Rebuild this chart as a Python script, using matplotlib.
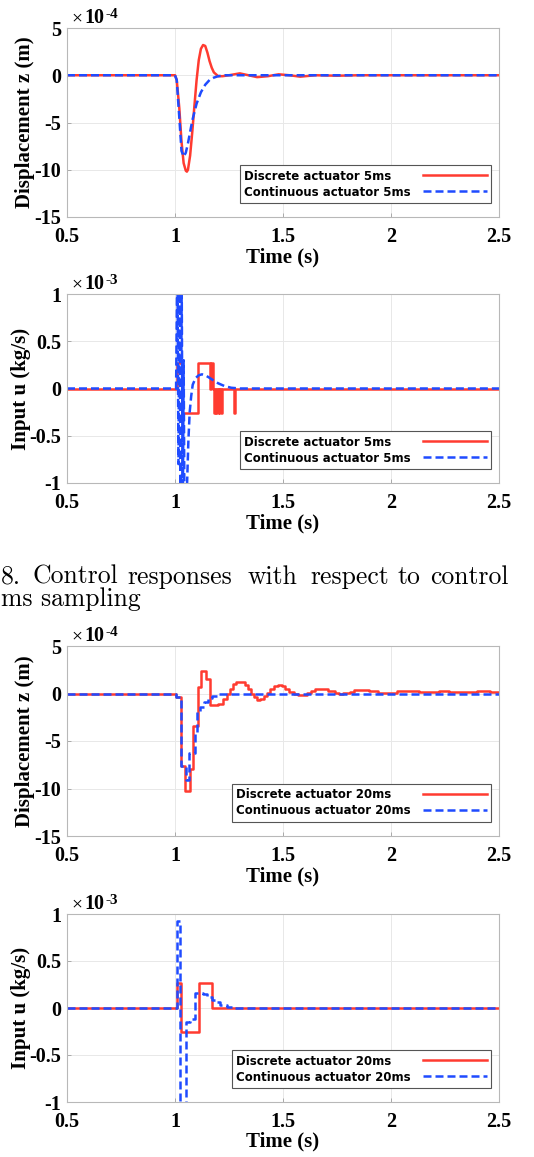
"""Recreate the control-response figure (5 ms and 20 ms sampling)."""
import matplotlib
matplotlib.use("Agg")
import matplotlib.pyplot as plt
from matplotlib.transforms import Bbox, offset_copy

plt.rcParams["axes.unicode_minus"] = False

RED = "#ff3b30"
BLUE = "#1f4bff"

# ---- 5 ms sampling: displacement (x1e-4 m) ----
z5_disc_t = [0.5, 1.0, 1.008, 1.02, 1.03, 1.04, 1.05, 1.055, 1.06, 1.07, 1.08, 1.09,
             1.10, 1.11, 1.12, 1.13, 1.14, 1.15, 1.16, 1.17, 1.18, 1.20, 1.22, 1.25,
             1.30, 1.34, 1.38, 1.43, 1.48, 1.53, 1.58, 1.65, 1.75, 1.85, 2.5]
z5_disc = [0, 0, -0.5, -3.5, -7.0, -9.3, -10.1, -10.2, -10.0, -8.5, -6.0, -3.2,
           -0.5, 1.6, 2.8, 3.2, 3.1, 2.4, 1.5, 0.8, 0.3, -0.1, -0.1, 0.0,
           0.2, 0.0, -0.2, -0.1, 0.1, 0.0, -0.15, 0.0, -0.05, 0.0, 0.0]
z5_cont_t = [0.5, 1.0, 1.008, 1.02, 1.03, 1.04, 1.05, 1.06, 1.07, 1.08, 1.10, 1.12,
             1.14, 1.16, 1.18, 1.20, 1.23, 2.5]
z5_cont = [0, 0, -0.5, -4.5, -8.0, -8.6, -8.2, -7.2, -6.0, -4.8, -3.0, -1.8,
           -1.0, -0.5, -0.25, -0.1, 0.0, 0.0]

# ---- 5 ms sampling: input (x1e-3 kg/s) ----
u5_disc_t = [0.5, 1.010, 1.031, 1.108, 1.163, 1.166, 1.175, 1.181, 1.184, 1.192, 1.195,
             1.203, 1.206, 1.214, 1.217, 1.274, 1.277, 2.5]
u5_disc = [0, 0.27, -0.26, 0.27, 0, 0.27, 0, -0.26, 0, -0.26, 0,
           -0.26, 0, -0.26, 0, -0.26, 0, 0]
u5_cont_t = [0.5, 1.005, 1.011, 1.016, 1.021, 1.026, 1.031, 1.036, 1.040,
             1.044, 1.050, 1.056, 1.062, 1.068, 1.075, 1.082, 1.095, 1.110, 1.125, 1.140,
             1.155, 1.175, 1.20, 1.23, 1.26, 1.30, 2.5]
u5_cont = [0, 0, 1.4, -0.8, 1.4, -1.4, 1.1, -1.4, 0.3,
           -1.4, -1.3, -1.0, -0.55, -0.25, -0.08, 0.04, 0.11, 0.14, 0.15, 0.14,
           0.12, 0.09, 0.055, 0.025, 0.008, 0.0, 0.0]

# ---- 20 ms sampling: displacement (x1e-4 m) ----
z20_disc_t = [0.5, 1.006, 1.029, 1.048, 1.068, 1.085, 1.107, 1.119, 1.145, 1.162,
              1.200, 1.224, 1.239, 1.254, 1.269, 1.284, 1.299, 1.322, 1.337, 1.352,
              1.367, 1.380, 1.393, 1.41, 1.425, 1.44, 1.458, 1.477, 1.495, 1.51,
              1.53, 1.55, 1.57, 1.59, 1.61, 1.63, 1.65, 1.668, 1.69, 1.71,
              1.74, 1.76, 1.78, 1.81, 1.83, 1.85, 1.87, 1.90, 1.94, 1.98,
              2.03, 2.08, 2.13, 2.18, 2.22, 2.27, 2.31, 2.36, 2.40, 2.46, 2.5]
z20_disc = [0, -0.4, -7.6, -10.3, -7.9, -3.45, 0.7, 2.4, 1.5, -1.2,
            -1.1, -0.6, 0.0, 0.5, 1.0, 1.2, 1.2, 0.9, 0.45, 0.0,
            -0.4, -0.65, -0.6, -0.3, 0.1, 0.45, 0.75, 0.85, 0.75, 0.5,
            0.2, -0.05, -0.2, -0.15, 0.05, 0.25, 0.45, 0.5, 0.45, 0.3,
            0.1, 0.0, 0.05, 0.2, 0.35, 0.42, 0.4, 0.3, 0.07, 0.1,
            0.3, 0.25, 0.12, 0.15, 0.25, 0.2, 0.15, 0.18, 0.22, 0.2, 0.2]
z20_cont_t = [0.5, 1.006, 1.029, 1.050, 1.066, 1.092, 1.103, 1.118, 1.133, 1.153,
              1.171, 1.193, 1.216, 2.5]
z20_cont = [0, -0.4, -7.6, -9.1, -6.3, -4.1, -1.9, -1.4, -0.9, -0.5,
            -0.3, -0.1, 0.0, 0.0]

# ---- 20 ms sampling: input (x1e-3 kg/s) ----
u20_disc_t = [0.5, 1.008, 1.029, 1.110, 1.172, 2.5]
u20_disc = [0, 0.27, -0.255, 0.27, 0, 0]
u20_cont_t = [0.5, 1.010, 1.025, 1.050, 1.070, 1.093, 1.13, 1.15, 1.17, 1.19,
              1.21, 1.24, 1.27, 2.5]
u20_cont = [0, 0.93, -1.4, -0.15, -0.12, 0.16, 0.15, 0.12, 0.09, 0.06,
            0.035, 0.015, 0.0, 0.0]

X_TICKS = [0.5, 1, 1.5, 2, 2.5]
X_TICKLABELS = ["0.5", "1", "1.5", "2", "2.5"]
Z_TICKS = [-15, -10, -5, 0, 5]
Z_TICKLABELS = ["-15", "-10", "-5", "0", "5"]
U_TICKS = [-1, -0.5, 0, 0.5, 1]
U_TICKLABELS = ["-1", "-0.5", "0", "0.5", "1"]

SERIF = "Liberation Serif"


def style_axes(fig, ax, yticks, yticklabels, ylabel, exponent, ylabel_x):
    ax.set_xlim(0.5, 2.5)
    ax.set_ylim(yticks[0], yticks[-1])
    ax.set_xticks(X_TICKS)
    ax.set_xticklabels(X_TICKLABELS, family=SERIF, weight="bold", fontsize=14.5)
    ax.set_yticks(yticks)
    ax.set_yticklabels(yticklabels, family=SERIF, weight="bold", fontsize=14.5)
    ax.tick_params(direction="in", length=3, width=0.6, color="#a0a0a0")
    ax.tick_params(axis="x", pad=7)
    ax.tick_params(axis="y", pad=4)
    ax.grid(True, color="#e8e8e8", linewidth=0.7)
    ax.set_axisbelow(True)
    for sp in ax.spines.values():
        sp.set_color("#b8b8b8")
        sp.set_linewidth(0.8)
    ax.set_xlabel("Time (s)", family=SERIF, weight="bold", fontsize=15, va="center")
    ax.xaxis.set_label_coords(0.5, -40 / 189)
    ax.set_ylabel(ylabel, family=SERIF, weight="bold", fontsize=15, va="center")
    ax.yaxis.set_label_coords(ylabel_x, 0.5)

    # MATLAB-style exponent above the top-left corner
    def at(dx, dy):
        return offset_copy(ax.transAxes, fig=fig, x=dx, y=dy, units="dots")
    ax.text(0, 1, "\u00d7", transform=at(4, 5), family=SERIF, fontsize=14,
            ha="left", va="baseline")
    ax.text(0, 1, "10", transform=at(17, 5), family=SERIF, weight="bold",
            fontsize=14.5, ha="left", va="baseline")
    ax.text(0, 1, str(exponent), transform=at(38, 10), family=SERIF, weight="bold",
            fontsize=11, ha="left", va="baseline")


def add_legend(ax, sampling):
    leg = ax.legend([f"Discrete actuator {sampling}", f"Continuous actuator {sampling}"],
                    loc="lower right", bbox_to_anchor=(0.981, 0.076), borderaxespad=0,
                    markerfirst=False, handlelength=5.4, handletextpad=1.0,
                    labelspacing=0.25, borderpad=0.35, fancybox=False, framealpha=1,
                    prop={"family": "DejaVu Sans", "weight": "bold", "size": 8.5})
    leg.get_frame().set_edgecolor("#555555")
    leg.get_frame().set_linewidth(0.8)

    # left-align the labels while keeping the line samples in one column on the right
    items = leg._legend_handle_box.get_children()[0].get_children()
    text_boxes = [item.get_children()[0] for item in items]

    def widen(box):
        orig = box.get_bbox

        def get_bbox(renderer):
            b = orig(renderer)
            w = max(tb_orig(renderer).width for tb_orig in originals)
            return Bbox.from_bounds(b.x0, b.y0, w, b.height)
        return get_bbox

    originals = [tb.get_bbox for tb in text_boxes]
    for tb in text_boxes:
        tb.get_bbox = widen(tb)


def main():
    fig = plt.figure(figsize=(5.34, 11.57), dpi=100)
    left, width = 67 / 534, 432 / 534
    boxes = [(217, 189), (483, 189), (836, 190), (1102, 188)]
    axes = [fig.add_axes([left, (1157 - b) / 1157, width, h / 1157]) for b, h in boxes]

    dash = (3.2, 1.6)

    ax = axes[0]
    ax.plot(z5_disc_t, z5_disc, color=RED, lw=1.8)
    ax.plot(z5_cont_t, z5_cont, color=BLUE, lw=1.8, ls="--", dashes=dash)
    style_axes(fig, ax, Z_TICKS, Z_TICKLABELS, "Displacement z (m)", -4, -0.097)
    add_legend(ax, "5ms")

    ax = axes[1]
    ax.plot(u5_disc_t, u5_disc, color=RED, lw=1.8, drawstyle="steps-post")
    ax.plot(u5_cont_t, u5_cont, color=BLUE, lw=1.8, ls="--", dashes=dash)
    style_axes(fig, ax, U_TICKS, U_TICKLABELS, "Input u (kg/s)", -3, -0.107)
    add_legend(ax, "5ms")

    ax = axes[2]
    ax.plot(z20_disc_t, z20_disc, color=RED, lw=1.8, drawstyle="steps-post")
    ax.plot(z20_cont_t, z20_cont, color=BLUE, lw=1.8, ls="--", dashes=dash,
            drawstyle="steps-post")
    style_axes(fig, ax, Z_TICKS, Z_TICKLABELS, "Displacement z (m)", -4, -0.097)
    add_legend(ax, "20ms")

    ax = axes[3]
    ax.plot(u20_disc_t, u20_disc, color=RED, lw=1.8, drawstyle="steps-post")
    ax.plot(u20_cont_t, u20_cont, color=BLUE, lw=1.8, ls="--", dashes=dash,
            drawstyle="steps-post")
    style_axes(fig, ax, U_TICKS, U_TICKLABELS, "Input u (kg/s)", -3, -0.107)
    add_legend(ax, "20ms")

    # caption fragment between the two figures (justified line)
    words = [("8.", 1), ("Control", 33), ("responses", 127), ("with", 248),
             ("respect", 310), ("to", 397), ("control", 430)]
    for word, x in words:
        fig.text(x / 534, 1 - 584 / 1157, word, family="cmr10", fontsize=18.5,
                 ha="left", va="baseline")
    fig.text(1 / 534, 1 - 606 / 1157, "ms sampling", family="cmr10", fontsize=18.5,
             ha="left", va="baseline")

    fig.savefig("out.png", dpi=100)


if __name__ == "__main__":
    main()
